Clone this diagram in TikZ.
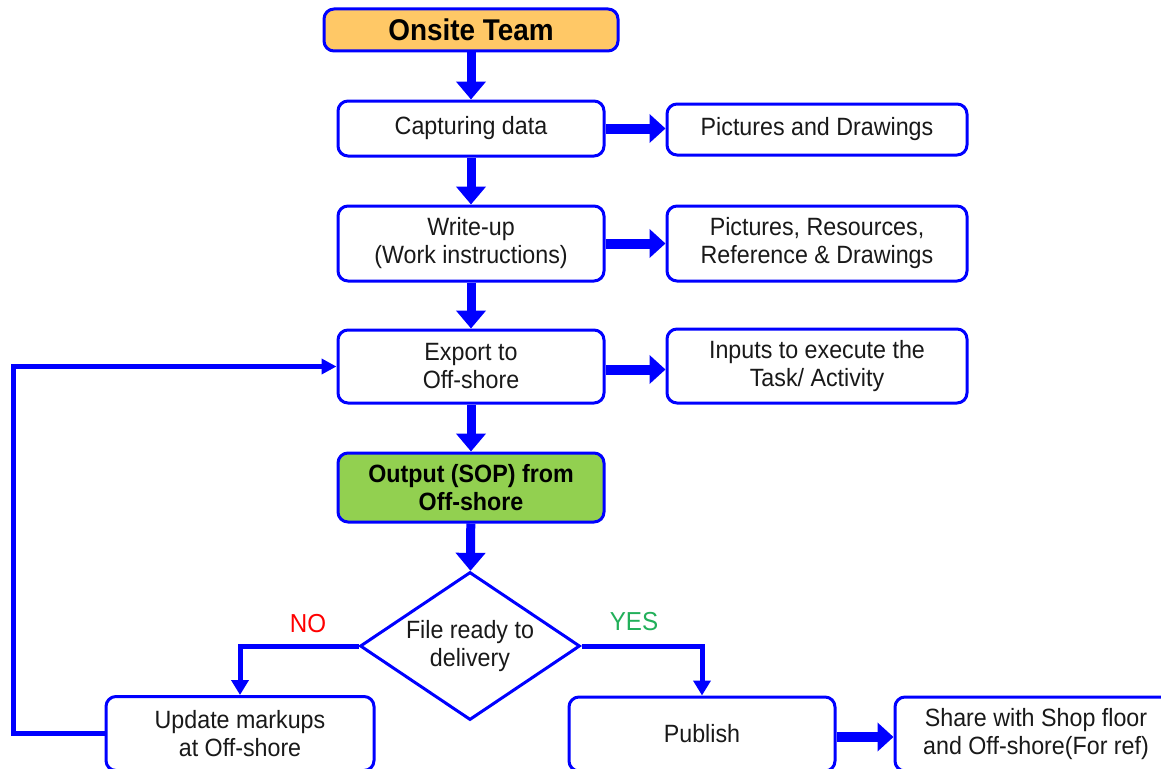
\documentclass[tikz,border=0pt]{standalone}
\usepackage{fontspec}
\setmainfont[FakeStretch=0.93]{Liberation Sans}
\usetikzlibrary{arrows.meta,shapes.geometric}
\definecolor{bl}{RGB}{0,0,255}
\definecolor{orangefill}{RGB}{255,200,102}
\definecolor{greenfill}{RGB}{146,208,80}
\definecolor{noRed}{RGB}{255,0,0}
\definecolor{yesGreen}{RGB}{34,176,90}
\tikzset{
  box/.style={draw=bl, line width=3pt, rounded corners=10pt, fill=white, align=center,
    inner sep=0pt, font=\fontsize{25}{28}\selectfont, text=black!90},
  vArrow/.style={draw=bl, line width=9pt, -{Triangle[length=18pt,width=29pt]}},
  hArrow/.style={draw=bl, line width=10pt, -{Triangle[length=16pt,width=28pt]}},
  thinArrow/.style={draw=bl, line width=5pt, -{Triangle[length=15pt,width=17pt]}},
  loopArrow/.style={draw=bl, line width=5pt, -{Triangle[length=15pt,width=15pt]}},
  lbl/.style={font=\fontsize{26}{28}\selectfont, inner sep=0pt}
}
\begin{document}
\begin{tikzpicture}[x=1pt,y=-1pt]
\clip (0,0) rectangle (1161,768);
\fill[white] (0,0) rectangle (1161,768);
% nodes
\node[box, fill=orangefill, minimum width=294, minimum height=42,
  font=\fontsize{30}{32}\selectfont\bfseries, text=black] (onsite) at (471,30) {Onsite Team};
\node[box, minimum width=266, minimum height=55] (cap) at (471,128.5) {Capturing data};
\node[box, minimum width=300, minimum height=51] (pic1) at (817,129.5) {Pictures and Drawings};
\node[box, minimum width=266, minimum height=75] (wu) at (471,243.5) {Write-up\\(Work instructions)};
\node[box, minimum width=300, minimum height=75] (pic2) at (817,243.5) {Pictures, Resources,\\Reference \& Drawings};
\node[box, minimum width=266, minimum height=73] (exp) at (471,366.5) {Export to\\Off-shore};
\node[box, minimum width=300, minimum height=74] (inp) at (817,366) {Inputs to execute the\\Task/ Activity};
\node[box, fill=greenfill, minimum width=266, minimum height=69,
  font=\fontsize{25}{28}\selectfont\bfseries, text=black] (out) at (471,487.5) {Output (SOP) from\\Off-shore};
\node[diamond, draw=bl, line width=3pt, fill=white, minimum width=220, minimum height=148,
  inner sep=0pt, shape aspect=1.486, align=center, font=\fontsize{25}{28}\selectfont, text=black!90]
  (dia) at (470,646) {File ready to\\delivery};
\node[box, minimum width=268, minimum height=74] (upd) at (240,733.5) {Update markups\\at Off-shore};
\node[box, minimum width=266, minimum height=74] (pub) at (702,734) {Publish};
\node[box, minimum width=282, minimum height=74] (share) at (1036,734) {Share with Shop floor\\and Off-shore(For ref)};
% labels
\node[lbl, text=noRed] (nolbl) at (308,624) {NO};
\node[lbl, text=yesGreen] (yeslbl) at (634,622) {YES};
% connectors
\draw[vArrow] (onsite) -- (cap);
\draw[vArrow] (cap) -- (wu);
\draw[vArrow] (wu) -- (exp);
\draw[vArrow] (exp) -- (out);
\draw[vArrow] (out) -- (dia);
\draw[hArrow] (cap.east) -- (cap.east -| pic1.west);
\draw[hArrow] (wu.east) -- (wu.east -| pic2.west);
\draw[hArrow] ([yshift=-3pt]exp.east) -- ([yshift=-3pt]exp.east -| inp.west);
\draw[thinArrow] (dia.west) -| (upd.north);
\draw[thinArrow] (dia.east) -| (pub.north);
\draw[hArrow] ([yshift=-3pt]pub.east) -- ([yshift=-3pt]pub.east -| share.west);
\draw[loopArrow] (upd.west) -- ++(-91,0) |- (exp.west);
\end{tikzpicture}
\end{document}
